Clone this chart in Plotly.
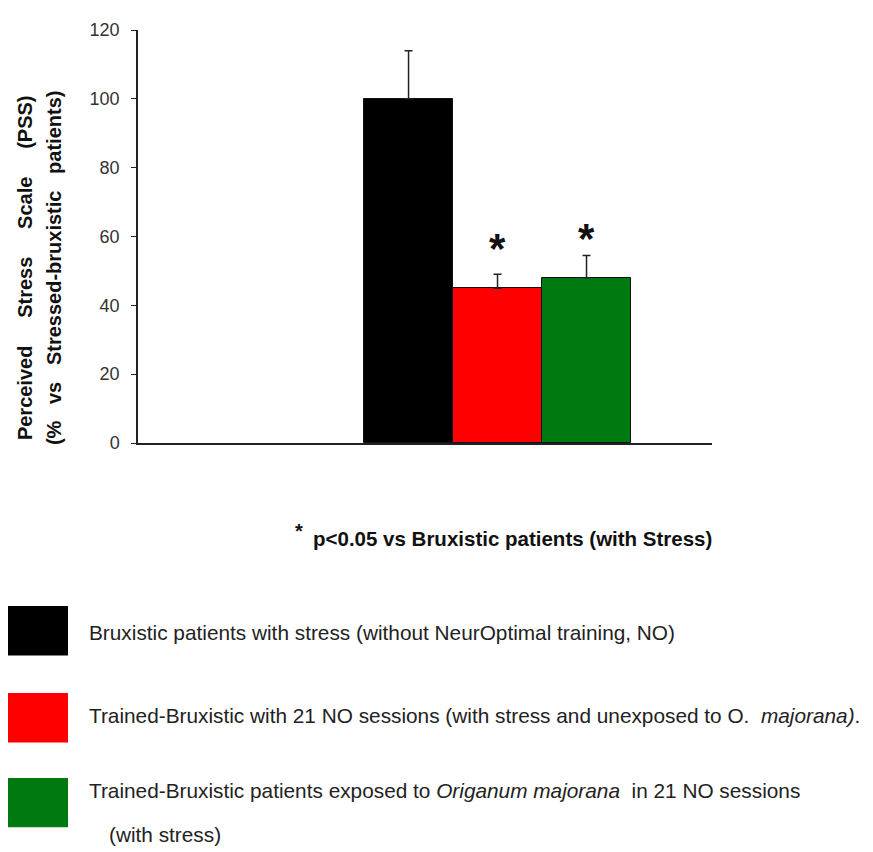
import plotly.graph_objects as go

# ---- data ----
groups = ["Bruxistic with stress", "Trained NO", "Trained NO + O. majorana"]
pss_values = [100, 45, 48]
pss_errors = [14, 4, 6.5]
bar_colors = ["#000000", "#ff0000", "#007a10"]
y_ticks = [0, 20, 40, 60, 80, 100, 120]
sig_groups = ["Trained NO", "Trained NO + O. majorana"]
sig_label_heights = [57.4, 60.3]
legend_labels = [
    "Bruxistic patients with stress (without NeurOptimal training, NO)",
    "Trained-Bruxistic with 21 NO sessions (with stress and unexposed to O.\u00a0 <i>majorana)</i>.",
    "Trained-Bruxistic patients exposed to <i>Origanum majorana</i>\u00a0 in 21 NO sessions",
]

# page body adds an 8px offset; work in reference pixels and subtract it
OFF = 8
W, H = 873 - OFF, 852 - OFF
L = 138 - OFF
T = 25 - OFF
R = W - (712 - OFF)
B = H - (443 - OFF)
PW, PH = W - L - R, H - T - B
FONT = "Liberation Sans, Arial"


def px(x):
    return (x - OFF - L) / PW


def py(y):
    return (H - B - (y - OFF)) / PH


fig = go.Figure()
fig.add_trace(go.Bar(
    x=groups, y=pss_values,
    marker=dict(color=bar_colors, line=dict(color="#111111", width=1)),
    error_y=dict(type="data", array=pss_errors, arrayminus=[0] * len(pss_errors),
                 symmetric=False, color="#222222", thickness=1.5, width=4),
    width=1,
    showlegend=False,
))

annotations = []
for g, h in zip(sig_groups, sig_label_heights):
    annotations.append(dict(x=g, y=h, xref="x", yref="y", text="<b>*</b>",
                            showarrow=False, font=dict(size=42, color="#111111", family=FONT),
                            yanchor="middle", yshift=-3))

# y-axis title (two rotated lines)
sp4 = "\u00a0" * 4
annotations.append(dict(x=px(25), y=py(266), xref="paper", yref="paper",
                        text="<b>Perceived" + sp4 + " Stress" + sp4 + " Scale" + sp4 + " (PSS)</b>",
                        textangle=-90, showarrow=False, xanchor="center", yanchor="middle",
                        font=dict(size=20, color="#111111", family=FONT)))
sp2 = "\u00a0" * 2
annotations.append(dict(x=px(54), y=py(266), xref="paper", yref="paper",
                        text="<b>(%" + sp2 + " vs" + sp2 + " Stressed-bruxistic" + sp2 + " patients)</b>",
                        textangle=-90, showarrow=False, xanchor="center", yanchor="middle",
                        font=dict(size=20, color="#111111", family=FONT)))

# significance note
annotations.append(dict(x=px(299), y=py(532), xref="paper", yref="paper", text="<b>*</b>",
                        showarrow=False, xanchor="center", yanchor="middle",
                        font=dict(size=20, color="#111111", family=FONT)))
annotations.append(dict(x=px(311), y=py(540), xref="paper", yref="paper",
                        text="<b>p<0.05 vs Bruxistic patients (with Stress)</b>",
                        showarrow=False, xanchor="left", yanchor="middle",
                        font=dict(size=20.5, color="#111111", family=FONT)))

# legend rows
shapes = []
row_boxes = [(608, 658), (696, 746), (782, 832)]
row_text_y = [635, 719, 795]
for (y0, y1), c, lbl, ty in zip(row_boxes, bar_colors, legend_labels, row_text_y):
    shapes.append(dict(type="rect", xref="paper", yref="paper", x0=px(0), x1=px(68),
                       y0=py(y1), y1=py(y0), fillcolor=c, line=dict(color=c, width=0)))
    annotations.append(dict(x=px(87), y=py(ty), xref="paper", yref="paper", text=lbl,
                            showarrow=False, xanchor="left", yanchor="middle",
                            font=dict(size=20.8, color="#222222", family=FONT)))
annotations.append(dict(x=px(107), y=py(839), xref="paper", yref="paper", text="(with stress)",
                        showarrow=False, xanchor="left", yanchor="middle",
                        font=dict(size=20.8, color="#222222", family=FONT)))

fig.update_layout(
    width=W, height=H,
    margin=dict(l=L, r=R, t=T, b=B, pad=0),
    paper_bgcolor="white", plot_bgcolor="white",
    bargap=0,
    xaxis=dict(range=[-3.04, 3.41], showticklabels=False, ticks="", showgrid=False,
               zeroline=False, showline=True, linecolor="#222222", linewidth=1.5,
               fixedrange=True),
    yaxis=dict(range=[0, 120], tickvals=y_ticks, ticks="outside", ticklen=5,
               tickcolor="#222222", tickwidth=1, showgrid=False, zeroline=False,
               showline=True, linecolor="#222222", linewidth=1.5,
               tickfont=dict(size=18, color="#333333", family=FONT),
               ticklabelstandoff=8),
    annotations=annotations,
    shapes=shapes,
    showlegend=False,
)

fig.write_html("out.html")
